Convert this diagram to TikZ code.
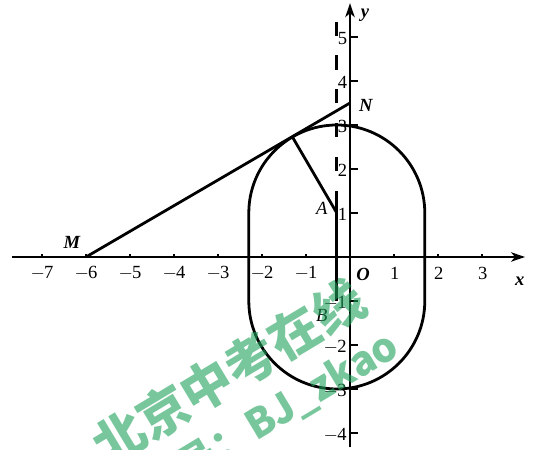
\documentclass[tikz,border=0pt]{standalone}
\usepackage{fontspec}
\setmainfont{Liberation Serif}
\newfontfamily\cjk{Noto Sans CJK SC}
\usetikzlibrary{arrows.meta,calc}
\definecolor{wmgreen}{RGB}{30,160,90}
\tikzset{
  axisline/.style={line width=1.7pt,-{Stealth[length=9pt,width=6pt,inset=2.5pt]}},
  curve/.style={line width=1.8pt,line join=round},
  ticklab/.style={inner sep=0pt,font=\fontsize{12}{14}\selectfont},
  ptlab/.style={inner sep=0pt,font=\fontsize{12}{14}\selectfont\itshape},
  bptlab/.style={inner sep=0pt,font=\fontsize{12}{14}\selectfont\bfseries\itshape},
  wmark/.style={text=wmgreen,opacity=0.6,rotate=31,inner sep=0pt}
}
\begin{document}
\begin{tikzpicture}[x=1cm,y=1cm]
\useasboundingbox (-7.955,-4.386) rectangle (4.205,5.841);
\begin{scope}
\clip (-7.955,-4.386) rectangle (4.205,5.841);
% points
\coordinate (O) at (0,0);
\coordinate (M) at (-6,0);
\coordinate (N) at (0,3.5);
\coordinate (A) at (-0.3,1);
\coordinate (B) at (-0.3,-1);
\coordinate (P) at ($(M)!(A)!(N)$);
\coordinate (Dtop) at (-0.3,5.35);
\coordinate (Dmid) at (-0.3,1.5);
\coordinate (xs) at (-7.68,0);
\coordinate (xe) at (3.98,0);
\coordinate (ys) at (0,-4.33);
\coordinate (ye) at (0,5.77);
% axes
\draw[axisline] (xs) -- (xe);
\draw[axisline] (ys) -- (ye);
% x ticks and labels
\foreach \i in {-7,-6,-5,-4,-3,-2,-1,1,2,3}{
  \draw[line width=1.2pt] (\i,0) -- (\i,0.07);
}
\foreach \i in {-7,-6,-5,-4,-3,-2,-1}{
  \node[ticklab] (xl\i) at (\i,-0.37) {$-$\kern-0.5pt\the\numexpr-\i\relax};
}
\foreach \i in {1,2,3}{
  \node[ticklab] (xl\i) at (\i+0.02,-0.37) {\i};
}
% y ticks and labels
\foreach \j in {-4,-3,-2,-1,1,2,3,4,5}{
  \draw[line width=1.4pt] (0,\j) -- (0.18,\j);
}
\foreach \j in {1,2,3,4,5}{
  \node[ticklab,anchor=east] (yl\j) at (-0.06,\j-0.04) {\j};
}
\foreach \j in {-1,-2,-3,-4}{
  \node[ticklab,anchor=east] (yl\j) at (-0.07,\j-0.04) {$-$\kern-0.5pt\the\numexpr-\j\relax};
}
% stadium curve
\draw[curve] (-2.3,-1) -- (-2.3,1) arc[start angle=180,end angle=0,radius=2]
  -- (1.7,-1) arc[start angle=0,end angle=-180,radius=2] -- cycle;
% dashed / solid vertical line
\draw[line width=1.8pt,dash pattern=on 0.32cm off 0.45cm] (Dtop) -- (Dmid);
\draw[line width=1.8pt] (Dmid) -- (B);
% tangent MN and radius AP
\draw[curve] (M) -- (N);
\draw[curve] (A) -- (P);
% labels
\node[bptlab] (lM) at (-6.32,0.34) {M};
\node[bptlab] (lN) at (0.36,3.45) {N};
\node[ptlab] (lA) at (-0.64,1.1) {A};
\node[ptlab] (lB) at (-0.64,-1.32) {B};
\node[bptlab] (lO) at (0.3,-0.40) {O};
\node[bptlab] (lx) at (3.86,-0.55) {x};
\node[bptlab] (ly) at (0.34,5.5) {y};
% watermark
\node[wmark,font=\cjk\bfseries\fontsize{33}{36}\selectfont] (wm1) at (-2.76,-2.62) {北京中考在线};
\node[wmark,anchor=east,font=\cjk\bfseries\fontsize{26}{30}\selectfont] (wm2) at (1.02,-1.93) {微信号：BJ\_zkao};
\end{scope}
\end{tikzpicture}
\end{document}
